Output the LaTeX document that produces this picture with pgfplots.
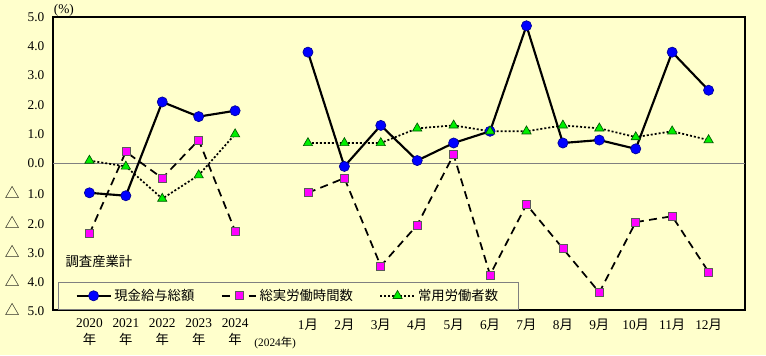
\documentclass[border=0pt]{standalone}
\usepackage{fontspec}
\setmainfont{Liberation Serif}
\newfontfamily\jp{Noto Sans CJK JP}
\usepackage{pgfplots}
\pgfplotsset{compat=1.18}
\definecolor{bg}{RGB}{255,255,204}
\definecolor{mblue}{RGB}{0,0,255}
\definecolor{mmag}{RGB}{255,0,255}
\definecolor{mgreen}{RGB}{0,240,0}
\newcommand\tri{\makebox[17pt][l]{\jp\fontsize{11}{12}\selectfont △}}
\begin{document}
\begin{tikzpicture}
\path[use as bounding box, fill=bg] (0,0) rectangle (574.5pt,266.25pt);
\begin{axis}[
  at={(39.75pt,33.75pt)}, anchor=south west,
  scale only axis, width=519pt, height=219.75pt,
  xmin=-1, xmax=18, ymin=-5, ymax=5,
  axis background/.style={fill=bg},
  axis line style={black, line width=0.9pt},
  major tick length=0pt,
  xtick={0,1,2,3,4,6,7,8,9,10,11,12,13,14,15,16,17},
  xticklabels={{2020\\{\jp 年}},{2021\\{\jp 年}},{2022\\{\jp 年}},{2023\\{\jp 年}},{2024\\{\jp 年}},
    {1{\jp 月}},{2{\jp 月}},{3{\jp 月}},{4{\jp 月}},{5{\jp 月}},{6{\jp 月}},{7{\jp 月}},{8{\jp 月}},{9{\jp 月}},{10{\jp 月}},{11{\jp 月}},{12{\jp 月}}},
  xticklabel style={align=center, font=\fontsize{10}{12.5}\selectfont, anchor=north, yshift=-3pt},
  ytick={-5,-4,-3,-2,-1,0,1,2,3,4,5},
  yticklabels={{\tri5.0},{\tri4.0},{\tri3.0},{\tri2.0},{\tri1.0},0.0,1.0,2.0,3.0,4.0,5.0},
  yticklabel style={font=\fontsize{10}{12}\selectfont, anchor=east, xshift=-3pt},
  extra y ticks={0}, extra y tick labels={},
  extra y tick style={grid=major, major grid style={gray, line width=0.6pt}},
  unbounded coords=jump,
  clip=false,
  legend columns=3,
  legend cell align=left,
  legend style={at={(rel axis cs:0.007,0)}, anchor=south west, draw=gray, fill=bg,
    font=\jp\fontsize{10}{12}\selectfont, inner xsep=13pt, inner ysep=3.5pt,
    /tikz/every even column/.append style={column sep=18pt}},
  legend image code/.code={\draw[mark repeat=2,mark phase=2] plot coordinates {(0cm,0cm)(0.45cm,0cm)(0.9cm,0cm)};},
]
\addplot[black, line width=1.6pt, mark=*, mark size=3.8pt,
  mark options={solid, fill=mblue, draw=mblue!60!black, line width=0.5pt}]
  coordinates {(0,-1.0)(1,-1.1)(2,2.1)(3,1.6)(4,1.8)(5,nan)
  (6,3.8)(7,-0.1)(8,1.3)(9,0.1)(10,0.7)(11,1.1)(12,4.7)(13,0.7)(14,0.8)(15,0.5)(16,3.8)(17,2.5)};
\addlegendentry{現金給与総額}
\addplot[black, line width=1.3pt, dash pattern=on 6pt off 4pt, mark=square*, mark size=3pt,
  mark options={solid, fill=mmag, draw=gray!70!black, line width=0.5pt}]
  coordinates {(0,-2.4)(1,0.4)(2,-0.5)(3,0.8)(4,-2.3)(5,nan)
  (6,-1.0)(7,-0.5)(8,-3.5)(9,-2.1)(10,0.3)(11,-3.8)(12,-1.4)(13,-2.9)(14,-4.4)(15,-2.0)(16,-1.8)(17,-3.7)};
\addlegendentry{総実労働時間数}
\addplot[black, line width=1.3pt, dash pattern=on 1.5pt off 1.5pt, mark=triangle*, mark size=4pt,
  mark options={solid, fill=mgreen, draw=green!35!black, line width=0.5pt}]
  coordinates {(0,0.1)(1,-0.1)(2,-1.2)(3,-0.4)(4,1.0)(5,nan)
  (6,0.7)(7,0.7)(8,0.7)(9,1.2)(10,1.3)(11,1.1)(12,1.1)(13,1.3)(14,1.2)(15,0.9)(16,1.1)(17,0.8)};
\addlegendentry{常用労働者数}
\node[anchor=west, inner sep=0, font=\jp\fontsize{10}{12}\selectfont] at (axis cs:-0.66,-3.35) {調査産業計};
\node[anchor=south, inner sep=0, font=\fontsize{10}{12}\selectfont] at (axis cs:-0.7,5) {(\%)};
\node[anchor=north, inner sep=0, font=\fontsize{8.5}{10}\selectfont, yshift=-20pt] at (axis cs:5.1,-5) {(2024{\jp 年})};
\end{axis}
\end{tikzpicture}
\end{document}
